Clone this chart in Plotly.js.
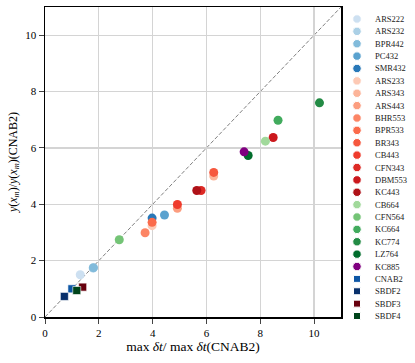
<!DOCTYPE html>
<html>
<head>
<meta charset="utf-8">
<script src="https://cdn.plot.ly/plotly-3.0.1.min.js"></script>
<style>
  html, body { margin: 0; padding: 0; background: #fff; }
  #chart { width: 415px; height: 363px; }
</style>
</head>
<body>
<div id="chart"></div>
<script>
// one point per scheme, ratios relative to CNAB2
const schemes = ['ARS222', 'ARS232', 'BPR442', 'PC432', 'SMR432',
  'ARS233', 'ARS343', 'ARS443', 'BHR553', 'BPR533', 'BR343', 'CB443', 'CFN343', 'DBM553', 'KC443',
  'CB664', 'CFN564', 'KC664', 'KC774', 'LZ764', 'KC885',
  'CNAB2', 'SBDF2', 'SBDF3', 'SBDF4'];
const dtRatio = [1.31, 1.79, 1.80, 4.44, 3.98,
  3.98, 6.27, 4.92, 3.72, 3.98, 6.27, 4.92, 5.80, 8.48, 5.64,
  8.19, 2.76, 8.66, 10.20, 7.55, 7.40,
  1.00, 0.72, 1.40, 1.18];
const yRatio = [1.50, 1.74, 1.75, 3.62, 3.51,
  3.24, 5.00, 3.86, 2.99, 3.36, 5.13, 3.99, 4.49, 6.37, 4.49,
  6.24, 2.74, 6.98, 7.60, 5.73, 5.86,
  1.00, 0.73, 1.06, 0.94];

// styles
const colors = ['#cde0f1', '#abd0e6', '#82bbdb', '#5aa2cf', '#2878b8',
  '#fdc9b4', '#fcb499', '#fc9d7f', '#fc8565', '#fb6b4b', '#f6583e', '#ef3b2c', '#dd2a25', '#cb181d', '#af1117',
  '#a1d99b', '#74c476', '#41ab5d', '#238b45', '#006d2c', '#800080',
  '#0d56a5', '#08306b', '#67000d', '#00441b'];
const symbols = schemes.map((s, i) => i >= 21 ? 'square' : 'circle');

const SERIF = '"Liberation Serif", "DejaVu Serif", serif';
const W = 415, H = 363;

var traces = schemes.map(function (name, i) {
  var sq = symbols[i] === 'square';
  return {
    type: 'scatter', mode: 'markers', name: name,
    x: [dtRatio[i]], y: [yRatio[i]],
    xaxis: 'x', yaxis: 'y',
    marker: {color: colors[i], symbol: symbols[i], size: sq ? 8 : 9, opacity: 1,
             line: {color: sq ? '#ffffff' : colors[i], width: sq ? 0.6 : 0}},
    showlegend: false, hoverinfo: 'skip'
  };
});

// hand made legend on its own little axes, one row per scheme
traces.push({
  type: 'scatter', mode: 'markers',
  x: schemes.map(() => 7), y: schemes,
  xaxis: 'x2', yaxis: 'y2',
  marker: {color: colors, symbol: symbols, opacity: 1,
           size: symbols.map(s => s === 'square' ? 7 : 8.5)},
  showlegend: false, hoverinfo: 'skip'
});

var legendText = schemes.map(function (name) {
  return {text: name, x: 22.5, y: name, xref: 'x2', yref: 'y2',
          xanchor: 'left', yanchor: 'middle', showarrow: false,
          font: {family: SERIF, size: 8.5, color: '#222'}};
});

var layout = {
  width: W, height: H,
  margin: {l: 0, r: 0, t: 0, b: 0},
  paper_bgcolor: '#fff', plot_bgcolor: '#fff',
  showlegend: false,
  font: {family: SERIF, color: '#000'},
  xaxis: {
    domain: [45 / W, 341 / W], range: [0, 11],
    tickvals: [0, 2, 4, 6, 8, 10], ticks: 'outside', ticklen: 5, tickwidth: 1,
    tickfont: {family: SERIF, size: 11}, showgrid: true, gridcolor: '#d4d4d4', gridwidth: 1.2,
    zeroline: false, showline: true, linecolor: '#000', linewidth: 1.5, mirror: true,
    automargin: false,
    title: {text: 'max <i>δt</i>/ max <i>δt</i>(CNAB2)', font: {family: SERIF, size: 13.5}, standoff: 2}
  },
  yaxis: {
    domain: [1 - 317 / H, 1 - 7 / H], range: [0, 11],
    tickvals: [0, 2, 4, 6, 8, 10], ticks: 'outside', ticklen: 5, tickwidth: 1,
    tickfont: {family: SERIF, size: 11}, showgrid: true, gridcolor: '#d4d4d4', gridwidth: 1.2,
    zeroline: false, showline: true, linecolor: '#000', linewidth: 1.5, mirror: true,
    automargin: false,
    title: {text: '<i>y</i>(<i>x</i><sub><i>m</i></sub>)/<i>y</i>(<i>x</i><sub><i>m</i></sub>)(CNAB2)',
            font: {family: SERIF, size: 12}, standoff: 5}
  },
  xaxis2: {domain: [350 / W, 1], range: [0, 65], visible: false, fixedrange: true},
  yaxis2: {domain: [1 - 322.2 / H, 1 - 12.8 / H], type: 'category',
           range: [schemes.length - 0.5, -0.5], visible: false, fixedrange: true},
  shapes: [{type: 'line', xref: 'x', yref: 'y', x0: 0, y0: 0, x1: 11, y1: 11,
            line: {color: '#808080', width: 1, dash: '4px,2px'}, layer: 'below'}],
  annotations: legendText
};

Plotly.newPlot('chart', traces, layout, {displayModeBar: false, staticPlot: true});
</script>
</body>
</html>
